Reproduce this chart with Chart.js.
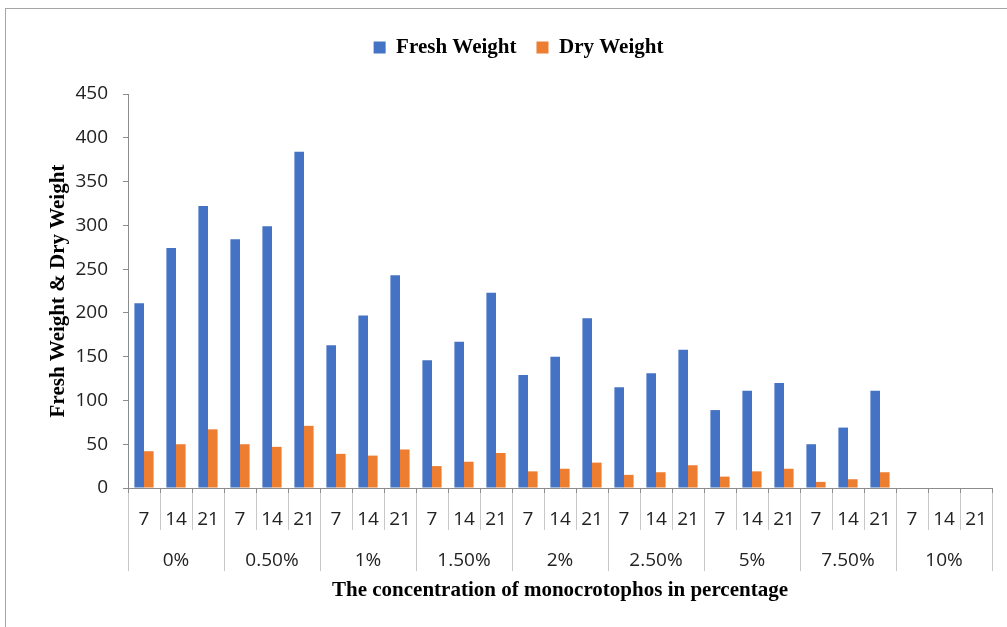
<!DOCTYPE html>
<html>
<head>
<meta charset="utf-8">
<script src="https://cdn.jsdelivr.net/npm/chart.js@4.4.1/dist/chart.umd.min.js"></script>
<style>
  html, body { margin: 0; padding: 0; background: #ffffff; overflow: hidden; }
  body { width: 1007px; height: 627px; position: relative; }
  #frame { position: absolute; left: 5px; top: 8px; width: 1100px; height: 700px;
           border-left: 1px solid #a6a6a6; border-top: 1px solid #a6a6a6; }
  #wrap { position: absolute; left: 45px; top: 0; width: 962px; height: 627px; }
</style>
</head>
<body>
<div id="frame"></div>
<div id="wrap"><canvas id="c" width="962" height="627"></canvas></div>
<script>
// ---- data ----
const days = ["7","14","21","7","14","21","7","14","21","7","14","21","7","14","21","7","14","21","7","14","21","7","14","21","7","14","21"];
const concentrations = ["0%","0.50%","1%","1.50%","2%","2.50%","5%","7.50%","10%"];
const freshWeight = [211,274,322, 284,299,384, 163,197,243, 146,167,223, 129,150,194, 115,131,158, 89,111,120, 50,69,111, null,null,null];
const dryWeight   = [42,50,67, 50,47,71, 39,37,44, 25,30,40, 19,22,29, 15,18,26, 13,19,22, 7,10,18, null,null,null];
const yTicks = [0,50,100,150,200,250,300,350,400,450];

const tickFont = { family: "'Open Sans', sans-serif", size: 19 };
const serifBold = { family: "'Liberation Serif', 'Times New Roman', serif", size: 21, weight: 'bold' };

const separators = {
  id: 'separators',
  afterDraw(chart) {
    const x = chart.scales.x, x2 = chart.scales.x2;
    const ctx = chart.ctx;
    const n = days.length;
    const half = (x.getPixelForValue(1) - x.getPixelForValue(0)) / 2;
    const groupBottom = x2.top + 41;
    ctx.save();
    ctx.lineWidth = 1;
    for (let i = 0; i <= n; i++) {
      const px = Math.round(i < n ? x.getPixelForValue(i) - half : x.getPixelForValue(n - 1) + half) + 0.5;
      const isGroup = i % 3 === 0;
      ctx.strokeStyle = '#c8c8c8';
      ctx.beginPath();
      ctx.moveTo(px, x.top);
      ctx.lineTo(px, isGroup ? groupBottom : x.bottom);
      ctx.stroke();
      ctx.strokeStyle = '#8c8c8c';
      ctx.beginPath();
      ctx.moveTo(px, x.top);
      ctx.lineTo(px, x.top + 5);
      ctx.stroke();
    }
    ctx.restore();
  }
};

new Chart(document.getElementById('c'), {
  type: 'bar',
  data: {
    labels: days,
    datasets: [
      { label: 'Fresh Weight', data: freshWeight, backgroundColor: '#4472C4', xAxisID: 'x', yAxisID: 'y' },
      { label: 'Dry Weight', data: dryWeight, backgroundColor: '#ED7D31', xAxisID: 'x', yAxisID: 'y' }
    ]
  },
  options: {
    responsive: false,
    animation: false,
    devicePixelRatio: 1,
    layout: { padding: { top: 17, right: 15, bottom: 0, left: 0 } },
    datasets: { bar: { categoryPercentage: 0.6, barPercentage: 1.0 } },
    plugins: {
      tooltip: { enabled: false },
      legend: {
        position: 'top',
        weight: 3000,
        labels: { boxWidth: 12, boxHeight: 12, padding: 20, color: '#000', font: serifBold }
      },
      title: {
        display: true,
        text: '',
        font: { size: 10 },
        padding: { top: 0, bottom: 14 }
      }
    },
    scales: {
      x: {
        type: 'category',
        position: 'bottom',
        weight: 0,
        offset: true,
        grid: { display: false, offset: true },
        border: { display: true, color: '#8c8c8c', width: 1 },
        ticks: { font: tickFont, color: '#222', padding: 12, maxRotation: 0, autoSkip: false },
        afterFit(s) { s.height = 42; }
      },
      x2: {
        type: 'category',
        position: 'bottom',
        weight: 1,
        labels: concentrations,
        offset: true,
        grid: { display: false, offset: true },
        border: { display: false },
        ticks: { font: tickFont, color: '#222', padding: 11, maxRotation: 0, autoSkip: false },
        title: {
          display: true,
          text: 'The concentration of monocrotophos in percentage',
          font: serifBold,
          color: '#000',
          padding: { top: 0, bottom: 24 }
        },
        afterFit(s) { s.height = 97; }
      },
      y: {
        min: 0,
        max: 450,
        afterBuildTicks(s) { s.ticks = yTicks.map(v => ({ value: v })); },
        grid: { display: true, drawOnChartArea: false, drawTicks: true, tickLength: 5, color: '#8c8c8c' },
        border: { display: true, color: '#8c8c8c', width: 1 },
        ticks: { font: tickFont, color: '#222', padding: 15 },
        title: {
          display: true,
          text: 'Fresh Weight & Dry Weight',
          font: serifBold,
          color: '#000',
          padding: { top: 1, bottom: 0 }
        },
        afterFit(s) { s.width = 83; }
      }
    }
  },
  plugins: [separators]
});
</script>
</body>
</html>
